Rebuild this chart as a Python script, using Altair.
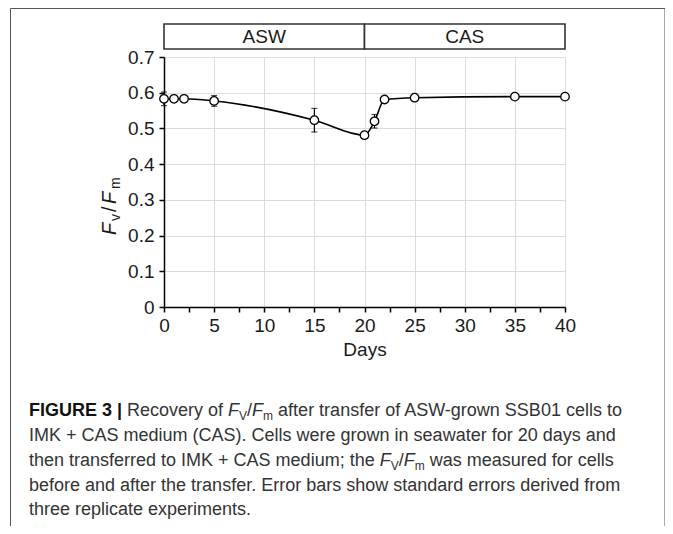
import altair as alt
import pandas as pd

# ---- data ----
days = [0, 1, 2, 5, 15, 20, 21, 22, 25, 35, 40]
fvfm = [0.583, 0.583, 0.583, 0.577, 0.523, 0.481, 0.520, 0.581, 0.586, 0.589, 0.589]
se = [0.019, 0.0, 0.0, 0.015, 0.033, 0.004, 0.019, 0.004, 0.003, 0.003, 0.003]

x_ticks = [0, 2.5, 5, 7.5, 10, 12.5, 15, 17.5, 20, 22.5, 25, 27.5, 30, 32.5, 35, 37.5, 40]
y_ticks = [0, 0.1, 0.2, 0.3, 0.4, 0.5, 0.6, 0.7]

periods = ["ASW", "CAS"]
period_start = [0, 20]
period_end = [20, 40]

FONT = "Liberation Sans"
TXT = "#1a1a1a"
CAP = "#333333"

df = pd.DataFrame({"day": days, "fvfm": fvfm, "se": se})
df["lo"] = df["fvfm"] - df["se"]
df["hi"] = df["fvfm"] + df["se"]
per = pd.DataFrame({"period": periods, "start": period_start, "end": period_end})
one = pd.DataFrame({"k": [0]})

xscale = alt.Scale(domain=[0, 40], nice=False)
yscale = alt.Scale(domain=[0, 0.7], nice=False)

xaxis = alt.Axis(
    values=x_ticks,
    labelExpr="datum.value % 5 === 0 ? datum.label : ''",
    gridOpacity={"condition": {"test": "datum.value % 5 === 0", "value": 1}, "value": 0},
    grid=True, gridColor="#dcdcdc", gridWidth=1,
    domainColor="black", domainWidth=1.5, tickColor="black", tickWidth=1.5, tickSize=5,
    labelFont=FONT, labelFontSize=19, labelColor=TXT, labelPadding=4, labelFlush=False,
    labelOverlap=False,
    title="Days", titleFont=FONT, titleFontSize=19, titleFontWeight="normal",
    titleColor=TXT, titlePadding=5,
)
yaxis = alt.Axis(
    values=y_ticks,
    labelExpr="datum.value == 0 ? '0' : format(datum.value, '.1f')",
    grid=True, gridColor="#dcdcdc", gridWidth=1,
    domainColor="black", domainWidth=1.5, tickColor="black", tickWidth=1.5, tickSize=5,
    labelFont=FONT, labelFontSize=19, labelColor=TXT, labelPadding=5, labelFlush=False,
    labelOverlap=False,
    title=None,
)

X = alt.X("day:Q", scale=xscale, axis=xaxis)
Y = alt.Y("fvfm:Q", scale=yscale, axis=yaxis)

line = alt.Chart(df).mark_line(color="black", strokeWidth=1.6, interpolate="monotone").encode(x=X, y=Y)

err = alt.Chart(df).transform_filter("datum.se > 0").mark_errorbar(
    ticks={"size": 6, "thickness": 1.2}, color="black", thickness=1.2
).encode(
    x=alt.X("day:Q", scale=xscale, axis=xaxis),
    y=alt.Y("lo:Q", scale=yscale, axis=yaxis),
    y2="hi:Q",
)

pts = alt.Chart(df).mark_point(
    shape="circle", filled=True, fill="white", stroke="black", strokeWidth=1.3, size=72, opacity=1
).encode(x=X, y=Y)

box = alt.Chart(per).mark_rect(fill="white", stroke="#333333", strokeWidth=1.6).encode(
    x=alt.X("start:Q", scale=xscale, axis=xaxis),
    x2="end:Q",
    y=alt.value(-33),
    y2=alt.value(-8),
)
box_txt = alt.Chart(per).transform_calculate(mid="(datum.start + datum.end) / 2").mark_text(
    font=FONT, fontSize=19, color=TXT, baseline="middle", align="center"
).encode(
    x=alt.X("mid:Q", scale=xscale, axis=xaxis),
    y=alt.value(-20),
    text="period:N",
)


def txt(s, x, y, size=18, style="normal", weight="normal", angle=0, color=CAP,
        align="left", baseline="alphabetic"):
    return alt.Chart(one).mark_text(
        text=s, font=FONT, fontSize=size, fontStyle=style, fontWeight=weight,
        angle=angle, align=align, baseline=baseline, color=color,
    ).encode(x=alt.value(x), y=alt.value(y))


OX, OY = 164, 57  # absolute position of plot origin (annotation layout)


def A(x, y):
    return x - OX, y - OY


# Arial / Liberation Sans advance widths (per 1000 em) for text flow layout
AW = {" ": 278, "(": 333, ")": 333, "+": 584, "-": 333, ".": 278, "/": 278, ";": 278, "|": 260,
      "A": 667, "B": 667, "C": 722, "D": 722, "E": 667, "F": 611, "G": 778, "I": 278, "K": 667,
      "M": 833, "R": 722, "S": 667, "U": 722, "V": 667, "W": 944,
      "a": 556, "b": 556, "c": 500, "d": 556, "e": 556, "f": 278, "g": 556, "h": 556, "i": 222,
      "l": 222, "m": 833, "n": 556, "o": 556, "p": 556, "r": 333, "s": 500, "t": 278, "u": 556,
      "v": 500, "w": 722, "x": 500, "y": 500}


def tw(s, size, bold=False):
    w = 0
    for c in s:
        if c.isdigit():
            w += 556
        elif bold and c == "|":
            w += 280
        else:
            w += AW.get(c, 556)
    return w / 1000 * size


# y-axis title  F_v / F_m  (rotated, reading upward)
ytitle = []
bx = 116
for s, yy, sz, st, sh in [
    ("F", 235, 20, "italic", 0),
    ("v", 221, 14, "normal", 4),
    ("/", 212, 20, "normal", 0),
    ("F", 204, 20, "italic", 0),
    ("m", 189, 14, "normal", 4),
]:
    xx, yr = A(bx + sh, yy)
    ytitle.append(txt(s, xx, yr, size=sz, style=st, angle=270, color=TXT))

# caption, flowed segment by segment
R, B, I, S = ("normal", "normal"), ("normal", "bold"), ("italic", "normal"), ("sub", "normal")
FS, SS = 18, 12
lines = [
    (415.7, [("FIGURE 3 |", B), (" ", R), ("Recovery of", R), (" ", R), ("F", I), ("V", S), ("/", R),
             ("F", I), ("m", S), (" ", R), ("after transfer of ASW-grown SSB01 cells to", R)]),
    (440.5, [("IMK + CAS medium (CAS). Cells were grown in seawater for 20 days and", R)]),
    (465.5, [("then transferred to IMK + CAS medium; the", R), (" ", R), ("F", I), ("V", S), ("/", R),
             ("F", I), ("m", S), (" ", R), ("was measured for cells", R)]),
    (490.5, [("before and after the transfer. Error bars show standard errors derived from", R)]),
    (515.0, [("three replicate experiments.", R)]),
]
cap = []
for base, parts in lines:
    x = 29.0
    for s, (st, wt) in parts:
        if s.strip() == "":
            x += tw(s, FS)
            continue
        if st == "sub":
            size, style, shift = SS, "normal", 4
        else:
            size, style, shift = FS, st, 0
        xx, yy = A(x, base + shift)
        cap.append(txt(s, xx, yy, size=size, style=style, weight=wt,
                       color="#111111" if wt == "bold" else CAP))
        x += tw(s, size, bold=(wt == "bold"))

# outer frame
fl, ft = A(10.5, 8.5)
fr = A(665, 0)[0]
fb = A(0, 526)[1]
frame = [
    alt.Chart(one).mark_rule(color="#555555", strokeWidth=1).encode(
        x=alt.value(fl), x2=alt.value(fr), y=alt.value(ft)),
    alt.Chart(one).mark_rule(color="#555555", strokeWidth=1).encode(
        x=alt.value(fl), y=alt.value(ft), y2=alt.value(fb)),
    alt.Chart(one).mark_rule(color="#555555", strokeWidth=1).encode(
        x=alt.value(fr), y=alt.value(ft), y2=alt.value(fb)),
]

chart = alt.layer(line, err, pts, box, box_txt, *ytitle, *cap, *frame).properties(
    width=401,
    height=250,
    autosize=alt.AutoSizeParams(type="none"),
    padding={"left": 156, "top": 49, "right": 100, "bottom": 219},
).configure_view(stroke=None).configure(background="white")

chart.save("out.html", embed_options={"renderer": "svg", "actions": False})
